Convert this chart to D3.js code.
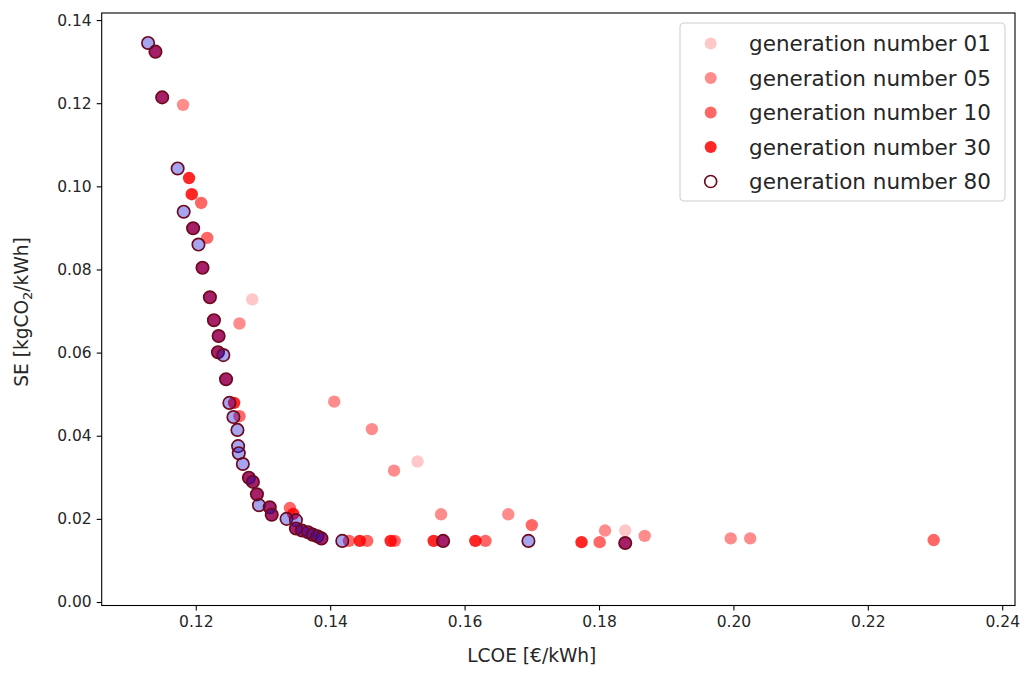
<!DOCTYPE html>
<html>
<head>
<meta charset="utf-8">
<script src="https://cdn.jsdelivr.net/npm/d3@7"></script>
<style>
  body { margin: 0; background: #fff; overflow: hidden; }
  svg { display: block; }
  text { font-family: "DejaVu Sans", sans-serif; fill: #262626; }
</style>
</head>
<body>
<svg width="1026" height="673"></svg>
<script>
// LCOE [€/kWh], SE [kgCO2/kWh] per generation
const gen01 = [[0.1284,0.0728],[0.1530,0.0338],[0.1839,0.0172]];
const gen05 = [[0.1181,0.1196],[0.1265,0.0670],[0.1406,0.0482],[0.1462,0.0416],[0.1495,0.0316],
  [0.1565,0.0211],[0.1665,0.0211],[0.1809,0.0172],[0.1868,0.0159],[0.1996,0.0153],[0.2025,0.0153]];
const gen10 = [[0.1208,0.0960],[0.1217,0.0876],[0.1265,0.0447],[0.1340,0.0226],[0.1428,0.0147],
  [0.1455,0.0147],[0.1496,0.0147],[0.1631,0.0147],[0.1700,0.0185],[0.1801,0.0144],[0.2298,0.0149]];
const gen30 = [[0.1140,0.1324],[0.1150,0.1214],[0.1190,0.1020],[0.1194,0.0981],[0.1196,0.0899],
  [0.1210,0.0804],[0.1221,0.0733],[0.1227,0.0678],[0.1234,0.0640],[0.1233,0.0601],[0.1245,0.0536],
  [0.1257,0.0479],[0.1279,0.0299],[0.1285,0.0289],[0.1291,0.0259],[0.1310,0.0228],[0.1313,0.0210],
  [0.1345,0.0212],[0.1349,0.0177],[0.1358,0.0172],[0.1367,0.0168],[0.1374,0.0162],[0.1381,0.0158],
  [0.1387,0.0153],[0.1444,0.0147],[0.1490,0.0147],[0.1554,0.0147],[0.1568,0.0147],[0.1616,0.0147],
  [0.1774,0.0144],[0.1839,0.0142]];
const gen80 = [[0.1129,0.1345],[0.1140,0.1324],[0.1150,0.1214],[0.1173,0.1043],[0.1182,0.0939],
  [0.1196,0.0899],[0.1204,0.0860],[0.1210,0.0804],[0.1221,0.0733],[0.1227,0.0678],[0.1234,0.0640],
  [0.1233,0.0601],[0.1241,0.0594],[0.1245,0.0536],[0.1250,0.0479],[0.1256,0.0445],[0.1262,0.0414],
  [0.1263,0.0375],[0.1264,0.0358],[0.1270,0.0332],[0.1279,0.0299],[0.1285,0.0289],[0.1291,0.0259],
  [0.1294,0.0233],[0.1310,0.0228],[0.1313,0.0210],[0.1335,0.0200],[0.1349,0.0197],[0.1349,0.0177],
  [0.1358,0.0172],[0.1367,0.0168],[0.1374,0.0162],[0.1381,0.0158],[0.1387,0.0153],[0.1418,0.0147],
  [0.1568,0.0147],[0.1695,0.0147],[0.1839,0.0142]];

const labels = ["generation number 01","generation number 05","generation number 10",
  "generation number 30","generation number 80"];
const xTicks = [0.12,0.14,0.16,0.18,0.20,0.22,0.24];
const yTicks = [0.00,0.02,0.04,0.06,0.08,0.10,0.12,0.14];

const margin = {top: 13, right: 11, bottom: 67.5, left: 101.7};
const w = 1026, h = 673;
const innerWidth = w - margin.left - margin.right;
const innerHeight = h - margin.top - margin.bottom;

const svg = d3.select("svg");
const g = svg.append("g")
  .attr("transform", `translate(${margin.left},${margin.top})`);

const xScale = d3.scaleLinear().domain([0.1060, 0.2419]).range([0, innerWidth]);
const yScale = d3.scaleLinear().domain([-0.00084, 0.1417]).range([innerHeight, 0]);

const styles = [
  {fill: "rgba(255,0,0,0.22)", stroke: "none"},
  {fill: "rgba(255,0,0,0.45)", stroke: "none"},
  {fill: "rgba(255,0,0,0.6)", stroke: "none"},
  {fill: "rgba(255,0,0,0.85)", stroke: "none"},
  {fill: "rgba(20,20,215,0.38)", stroke: "#6e0a1e"}
];
const series = [gen01, gen05, gen10, gen30, gen80];

series.forEach(function(data, i) {
  g.append("g").selectAll("circle")
    .data(data)
    .enter()
    .append("circle")
    .attr("cx", d => xScale(d[0]))
    .attr("cy", d => yScale(d[1]))
    .attr("r", 6.2)
    .attr("fill", styles[i].fill)
    .attr("stroke", styles[i].stroke)
    .attr("stroke-width", 1.7);
});

// axes
const xAxis = d3.axisBottom(xScale).tickValues(xTicks).tickSize(5).tickPadding(5)
  .tickFormat(d3.format(".2f"));
const yAxis = d3.axisLeft(yScale).tickValues(yTicks).tickSize(5).tickPadding(5)
  .tickFormat(d3.format(".2f"));

const xAxisG = g.append("g").attr("transform", `translate(0,${innerHeight})`).call(xAxis);
const yAxisG = g.append("g").call(yAxis);
[xAxisG, yAxisG].forEach(a => {
  a.select(".domain").remove();
  a.selectAll("line").attr("stroke", "#000").attr("stroke-width", 1.1);
  a.selectAll("text").style("font-size", "15.5px").style("fill", "#262626")
    .style("font-family", "DejaVu Sans");
});

g.append("rect")
  .attr("width", innerWidth).attr("height", innerHeight)
  .attr("fill", "none").attr("stroke", "#000").attr("stroke-width", 1.1);

svg.append("text")
  .attr("x", margin.left + xScale(0.17)).attr("y", 662)
  .attr("text-anchor", "middle").style("font-size", "18.6px")
  .text("LCOE [€/kWh]");

const ylab = svg.append("text")
  .attr("transform", "translate(28,312)rotate(-90)")
  .attr("text-anchor", "middle").style("font-size", "18.6px");
ylab.append("tspan").text("SE [kgCO");
ylab.append("tspan").attr("dy", 4).style("font-size", "13px").text("2");
ylab.append("tspan").attr("dy", -4).text("/kWh]");

// legend
const legend = svg.append("g").attr("transform", "translate(680,23)");
legend.append("rect")
  .attr("width", 325).attr("height", 178).attr("rx", 4)
  .attr("fill", "rgba(255,255,255,0.8)").attr("stroke", "#d0d0d0").attr("stroke-width", 1.1);
const legendFills = styles.map((s, i) => i === 4 ? "#fff" : s.fill);
labels.forEach(function(lab, i) {
  const row = legend.append("g").attr("transform", `translate(0,${20.5 + i * 34.5})`);
  row.append("circle").attr("cx", 30.7).attr("cy", 0).attr("r", 6)
    .attr("fill", legendFills[i]).attr("stroke", styles[i].stroke).attr("stroke-width", 1.7);
  row.append("text").attr("x", 69).attr("y", 7.5).style("font-size", "21.5px").text(lab);
});
</script>
</body>
</html>
